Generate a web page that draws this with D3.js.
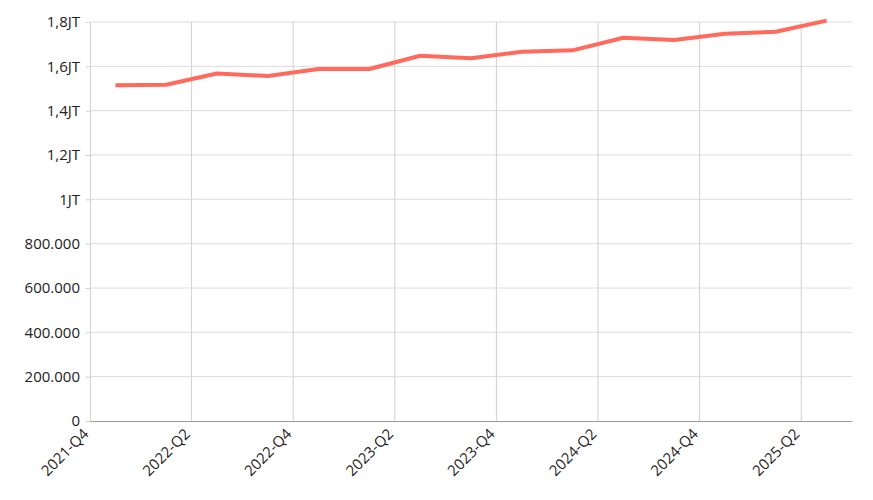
<!DOCTYPE html>
<html>
<head>
<meta charset="utf-8">
<script src="https://cdn.jsdelivr.net/npm/d3@7"></script>
<style>
  body { margin: 0; background: white; }
  text { font-family: "Open Sans", "Noto Sans", sans-serif; fill: #222; }
</style>
</head>
<body>
<div id="chart"></div>
<script>
var quarters = ["2021-Q4", "2022-Q1", "2022-Q2", "2022-Q3", "2022-Q4", "2023-Q1", "2023-Q2", "2023-Q3",
    "2023-Q4", "2024-Q1", "2024-Q2", "2024-Q3", "2024-Q4", "2025-Q1", "2025-Q2"];
var values = [1515000, 1517000, 1568000, 1556000, 1588000, 1588000, 1648000, 1636000,
    1666000, 1672000, 1729000, 1719000, 1747000, 1756000, 1806000];
var yTicks = [0, 200000, 400000, 600000, 800000, 1000000, 1200000, 1400000, 1600000, 1800000];

var margin = { top: 22, right: 21, bottom: 79, left: 90 },
    width = 873 - margin.left - margin.right,
    height = 500 - margin.top - margin.bottom;

var svg = d3.select("#chart")
    .append("svg")
    .attr("width", 873)
    .attr("height", 500);

var g = svg.append("g")
    .attr("transform", "translate(" + margin.left + "," + margin.top + ")");

var x = d3.scaleLinear()
    .domain([0, quarters.length])
    .range([0, width]);

var y = d3.scaleLinear()
    .domain([0, 1800000])
    .range([height, 0]);

var xTicks = d3.range(0, quarters.length, 2);

function fmt(v) {
    if (v >= 1000000) return d3.format(".1~f")(v / 1000000).replace(".", ",") + "JT";
    if (v === 0) return "0";
    return d3.format(",")(v).replace(/,/g, ".");
}

// grid
g.append("g")
    .selectAll("line")
    .data(yTicks.slice(1))
    .enter()
    .append("line")
    .attr("x1", 0)
    .attr("x2", width)
    .attr("y1", y)
    .attr("y2", y)
    .attr("stroke", "#dcdcdc")
    .attr("stroke-width", 1);

g.append("g")
    .selectAll("line")
    .data(xTicks.slice(1))
    .enter()
    .append("line")
    .attr("x1", x)
    .attr("x2", x)
    .attr("y1", 0)
    .attr("y2", height)
    .attr("stroke", "#d0d0d0")
    .attr("stroke-width", 1);

// y axis
var yAxis = g.append("g")
    .call(d3.axisLeft(y).tickValues(yTicks).tickFormat(fmt).tickSize(4).tickPadding(6));
yAxis.select(".domain").attr("stroke", "#d0d0d0");
yAxis.selectAll(".tick line").attr("stroke", "#d0d0d0");
yAxis.selectAll("text").attr("font-size", "15px").style("fill", "#222");

// x axis
var xAxis = g.append("g")
    .attr("transform", "translate(0," + height + ")")
    .call(d3.axisBottom(x).tickValues(xTicks).tickFormat(function(i) { return quarters[i]; }).tickSize(0).tickPadding(6));
xAxis.select(".domain").attr("stroke", "#999");
xAxis.selectAll("text")
    .attr("font-size", "15px")
    .style("fill", "#222")
    .attr("text-anchor", "end")
    .attr("dy", "0.35em")
    .attr("transform", "translate(-9,6) rotate(-45)");

// line
var line = d3.line()
    .x(function(d, i) { return x(i + 0.5); })
    .y(function(d) { return y(d); });

g.append("path")
    .datum(values)
    .attr("fill", "none")
    .attr("stroke", "#ff6a5c")
    .attr("stroke-width", 4)
    .attr("stroke-linejoin", "round")
    .attr("d", line);
</script>
</body>
</html>
